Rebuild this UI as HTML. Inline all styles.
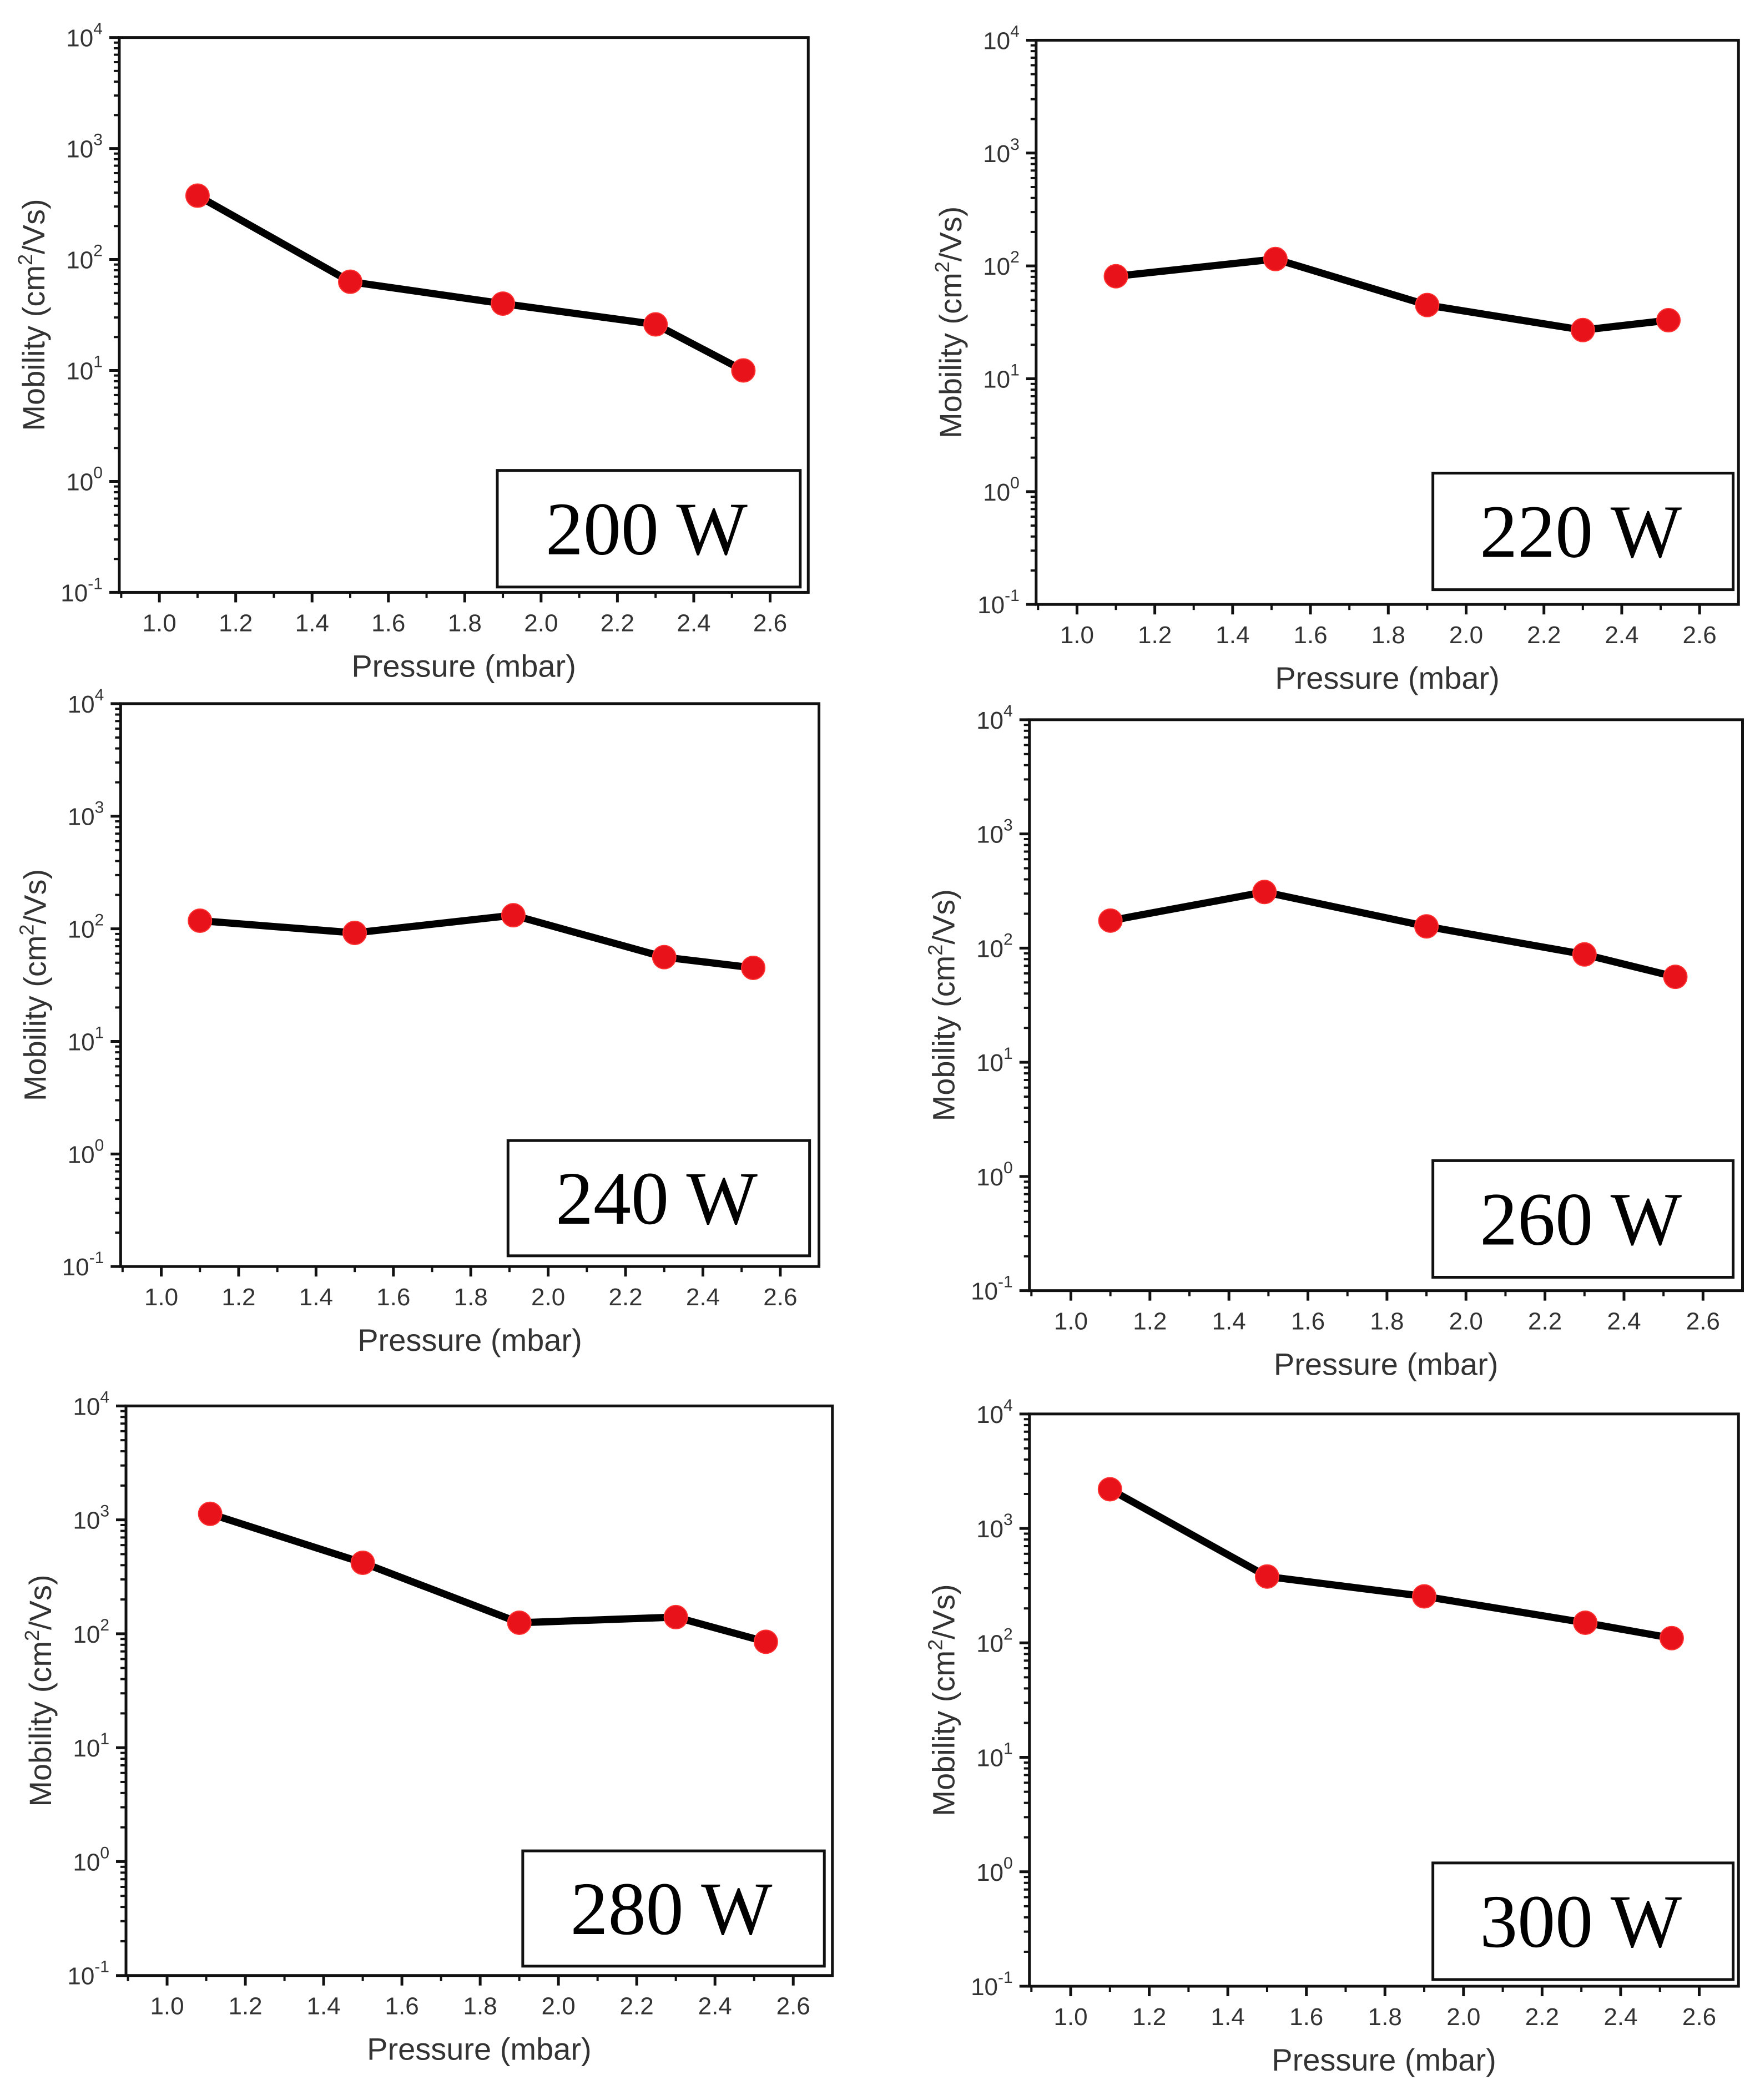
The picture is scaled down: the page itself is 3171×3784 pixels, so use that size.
<!DOCTYPE html>
<html><head><meta charset="utf-8"><style>
html,body{margin:0;padding:0;background:#fff;}
svg{display:block;}
</style></head><body>
<svg id="fig" xmlns="http://www.w3.org/2000/svg" width="3171" height="3784" viewBox="0 0 3171 3784"></svg>
<script>
// ---- data ----
const pressure200 = [1.10, 1.50, 1.90, 2.30, 2.53];
const mobility200 = [376, 63, 40, 26, 10];
const pressure220 = [1.10, 1.51, 1.90, 2.30, 2.52];
const mobility220 = [81, 115, 45, 27, 33];
const pressure240 = [1.10, 1.50, 1.91, 2.30, 2.53];
const mobility240 = [118, 92, 132, 56, 45];
const pressure260 = [1.10, 1.49, 1.90, 2.30, 2.53];
const mobility260 = [174, 310, 155, 88, 56];
const pressure280 = [1.11, 1.50, 1.90, 2.30, 2.53];
const mobility280 = [1130, 420, 125, 140, 85];
const pressure300 = [1.10, 1.50, 1.90, 2.31, 2.53];
const mobility300 = [2200, 380, 255, 150, 110];
const powerLabels = ["200 W", "220 W", "240 W", "260 W", "280 W", "300 W"];
const xTickValues = [1.0, 1.2, 1.4, 1.6, 1.8, 2.0, 2.2, 2.4, 2.6];
const yTickExponents = [-1, 0, 1, 2, 3, 4];

const S = 2.415;
const layouts = [
  {l:89,t:28,r:603,b:442, lg:[371,351,597,438]},
  {l:773,t:30,r:1297,b:451, lg:[1069,353,1293,440]},
  {l:90,t:525,r:611,b:945, lg:[379,851,604,937]},
  {l:768,t:537,r:1300,b:963, lg:[1069,866,1293,953]},
  {l:94,t:1049,r:621,b:1474, lg:[390,1381,615,1467]},
  {l:768,t:1055,r:1297,b:1482, lg:[1069,1390,1293,1477]}
];
const seriesX = [pressure200, pressure220, pressure240, pressure260, pressure280, pressure300];
const seriesY = [mobility200, mobility220, mobility240, mobility260, mobility280, mobility300];

const NS = "http://www.w3.org/2000/svg";
const svg = document.getElementById('fig');
function mk(tag, attrs, parent){
  const e = document.createElementNS(NS, tag);
  for (const k in attrs) e.setAttribute(k, attrs[k]);
  parent.appendChild(e);
  return e;
}

layouts.forEach((L, i) => {
  const l=L.l*S, t=L.t*S, r=L.r*S, b=L.b*S;
  const g = mk('g', {}, svg);
  
  
  const xMin = 0.895, xMax = 2.70;
  const xs = v => l + (v - xMin) / (xMax - xMin) * (r - l);
  const ys = v => b - (Math.log10(v) + 1) / 5 * (b - t);

  const fr = mk('rect', {x:l, y:t, width:r-l, height:b-t, fill:'none', stroke:'#111', 'stroke-width':5}, g);
  
  

  const yAxis = mk('g', {}, g);
  
  
  yTickExponents.forEach(ex => {
    const y = ys(Math.pow(10, ex));
    mk('line', {x1:l-18, x2:l, y1:y, y2:y, stroke:'#111', 'stroke-width':5}, yAxis);
    if (ex < 4) {
      for (let m = 2; m <= 9; m++) {
        const ym = ys(m * Math.pow(10, ex));
        mk('line', {x1:l-10, x2:l, y1:ym, y2:ym, stroke:'#111', 'stroke-width':4}, yAxis);
      }
    }
    const tx = mk('text', {x:l-30, y:y+16, 'text-anchor':'end', 'font-family':'Liberation Sans, sans-serif', 'font-size':44, fill:'#333'}, yAxis);
    
    
    tx.appendChild(document.createTextNode('10'));
    const sup = mk('tspan', {dy:-22, 'font-size':30}, tx);
    sup.textContent = String(ex);
  });
  const yt = mk('text', {x:0, y:0, 'text-anchor':'middle', 'font-family':'Liberation Sans, sans-serif', 'font-size':56, fill:'#333',
    transform:`translate(${l-135},${(t+b)/2}) rotate(-90)`}, g);
  
  
  yt.appendChild(document.createTextNode('Mobility (cm'));
  const s2 = mk('tspan', {dy:-22, 'font-size':36}, yt); s2.textContent = '2';
  const rest = mk('tspan', {dy:22}, yt); rest.textContent = '/Vs)';

  const xAxis = mk('g', {}, g);
  
  
  xTickValues.forEach(v => {
    const x = xs(v);
    mk('line', {x1:x, x2:x, y1:b, y2:b+18, stroke:'#111', 'stroke-width':5}, xAxis);
    const xm = xs(v + 0.1);
    if (xm < r) mk('line', {x1:xm, x2:xm, y1:b, y2:b+10, stroke:'#111', 'stroke-width':4}, xAxis);
    const tx = mk('text', {x:x, y:b+70, 'text-anchor':'middle', 'font-family':'Liberation Sans, sans-serif', 'font-size':44, fill:'#333'}, xAxis);
    
    
    tx.textContent = v.toFixed(1);
  });
  mk('line', {x1:xs(0.9), x2:xs(0.9), y1:b, y2:b+10, stroke:'#111', 'stroke-width':4}, xAxis);
  const xt = mk('text', {x:(l+r)/2, y:b+152, 'text-anchor':'middle', 'font-family':'Liberation Sans, sans-serif', 'font-size':56, fill:'#333'}, g);
  
  
  xt.textContent = 'Pressure (mbar)';

  const lg = L.lg.map(v => v * S);
  const lb = mk('rect', {x:lg[0], y:lg[1], width:lg[2]-lg[0], height:lg[3]-lg[1], fill:'#fff', stroke:'#111', 'stroke-width':5}, g);
  
  
  const lt = mk('text', {x:(lg[0]+lg[2])/2 - 4, y:(lg[1]+lg[3])/2 + 46, 'text-anchor':'middle', 'font-family':'Liberation Serif, serif', 'font-size':136, fill:'#000'}, g);
  
  
  lt.textContent = powerLabels[i];

  const px = seriesX[i], py = seriesY[i];
  const pts = px.map((v, k) => xs(v) + ',' + ys(py[k])).join(' ');
  const line = mk('polyline', {points:pts, fill:'none', stroke:'#000', 'stroke-width':13, 'stroke-linejoin':'round'}, g);
  
  
  px.forEach((v, k) => {
    const c = mk('circle', {cx:xs(v), cy:ys(py[k]), r:21, fill:'#e8131a', stroke:'#ff3030', 'stroke-width':2}, g);
    
    
  });
});
</script>
</body></html>
